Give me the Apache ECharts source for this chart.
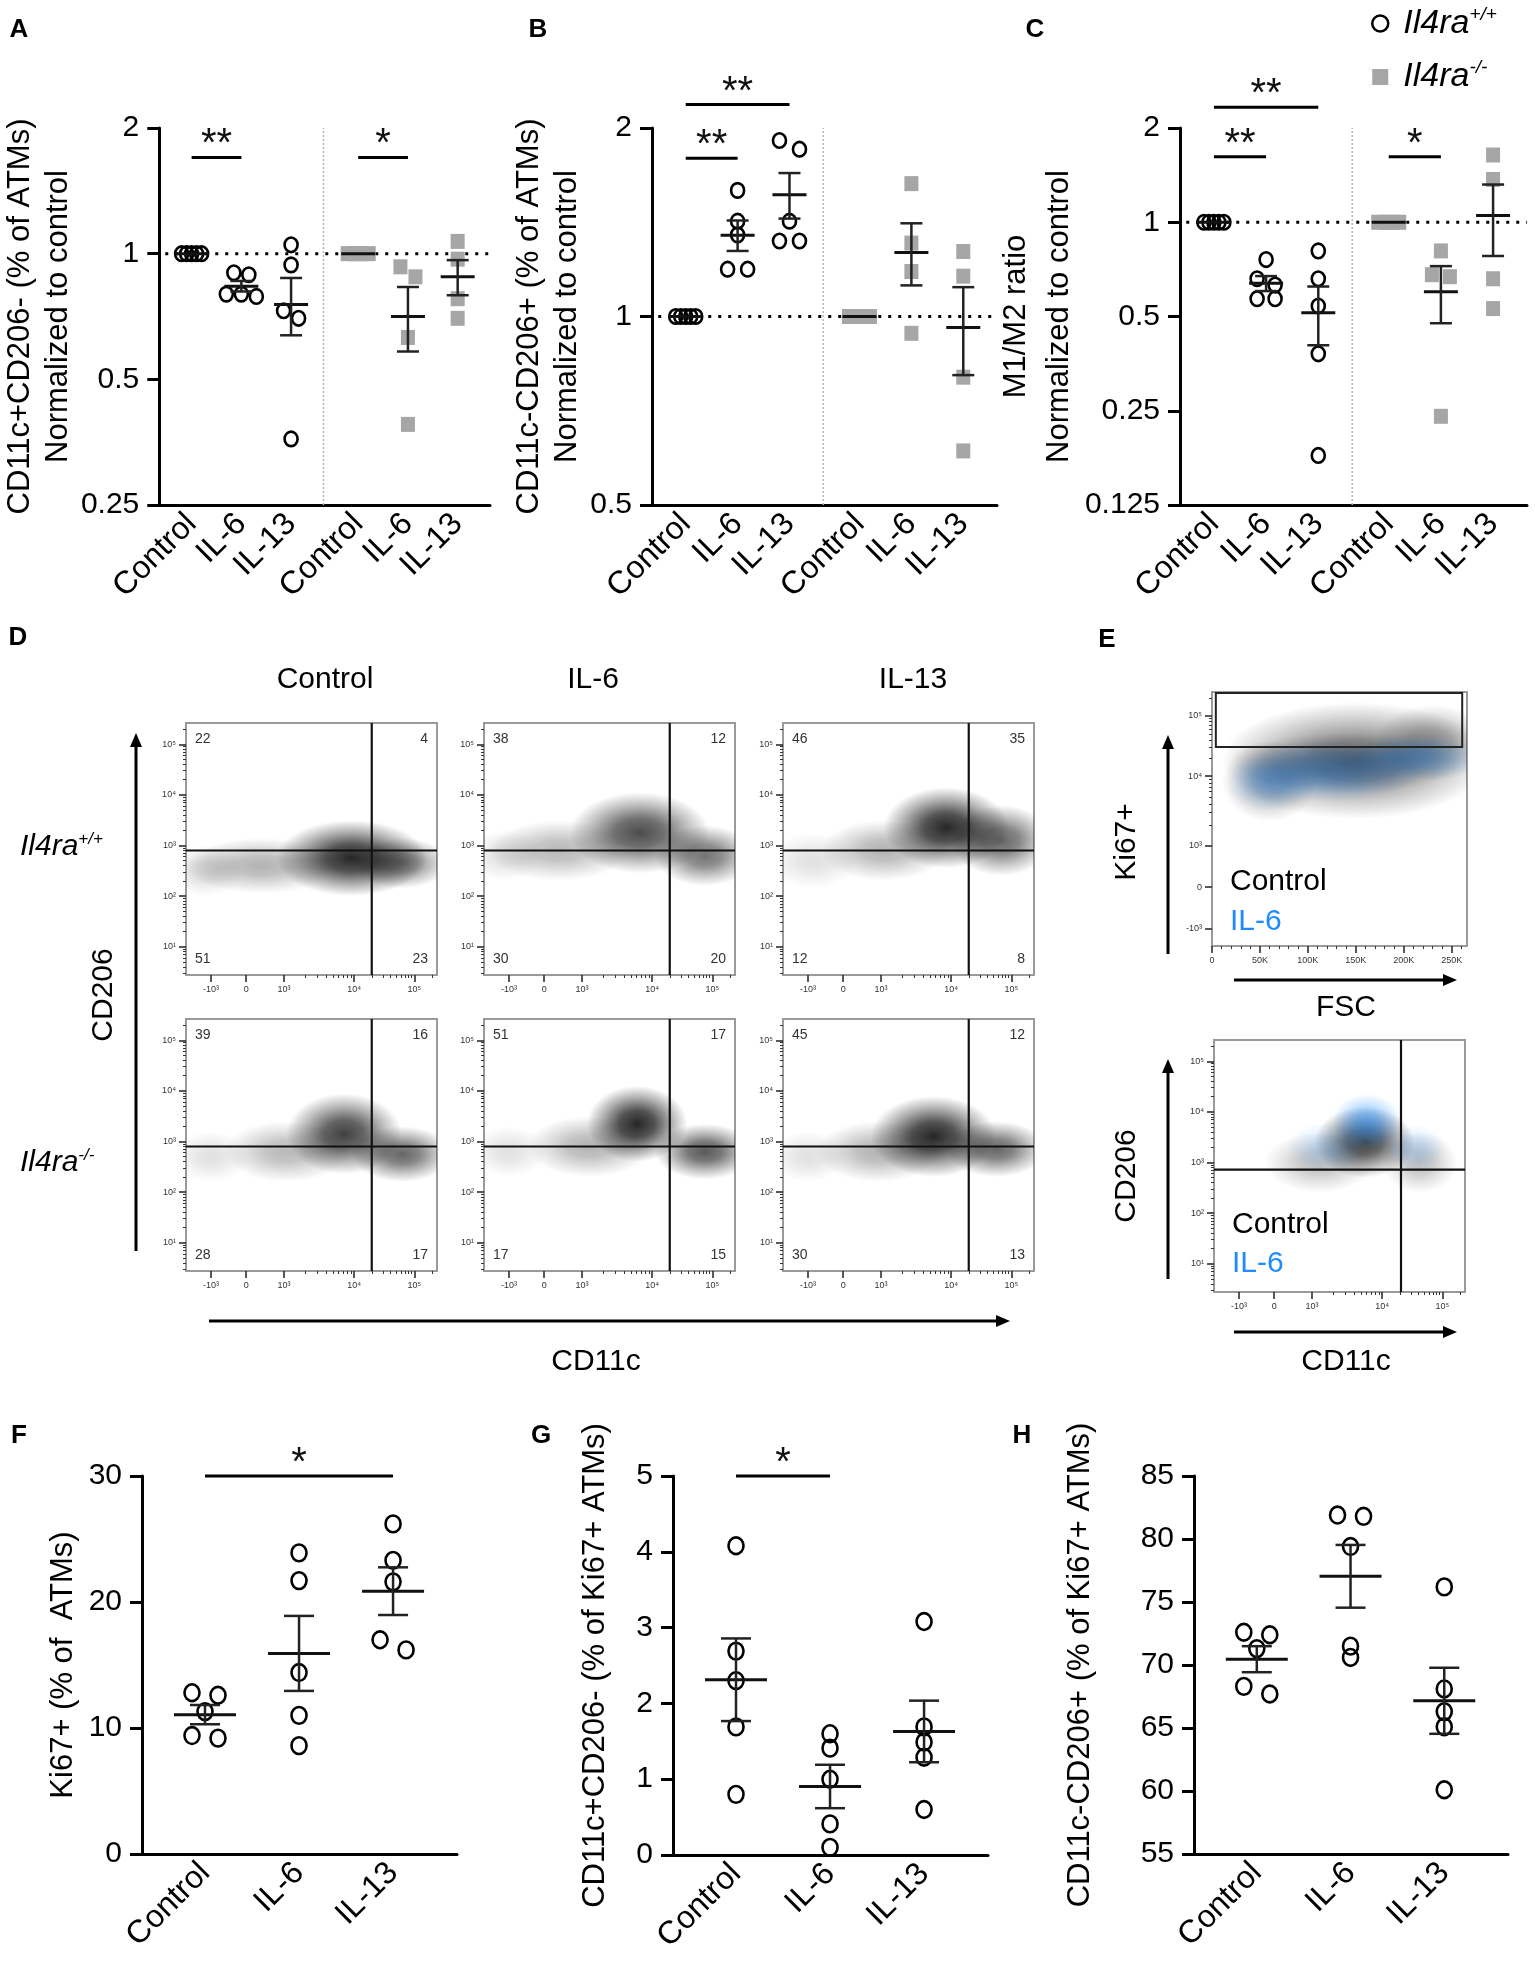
<!DOCTYPE html>
<html>
<head>
<meta charset="utf-8">
<script src="https://cdn.jsdelivr.net/npm/echarts@6/dist/echarts.min.js"></script>
<style>
  html, body { margin: 0; padding: 0; background: #fff; }
  #fig { width: 1535px; height: 1961px; }
</style>
</head>
<body>
<div id="fig"></div>
<script>
// ---------- data ----------
var groupNames = ['Control', 'IL-6', 'IL-13'];
var groupPos6 = [0.65, 1.65, 2.65, 4, 5, 6];
var groupPos3 = [0.67, 1.67, 2.67];

// A: CD11c+CD206- normalized (Il4ra+/+ then Il4ra-/-)
var aWt = [[1, 1, 1, 1, 1], [0.90, 0.89, 0.80, 0.80, 0.79], [1.05, 0.94, 0.73, 0.70, 0.36]];
var aKo = [[1, 1, 1, 1], [0.93, 0.88, 0.63, 0.39], [1.07, 0.97, 0.78, 0.70]];
// B: CD11c-CD206+ normalized
var bWt = [[1, 1, 1, 1, 1], [1.59, 1.42, 1.35, 1.19, 1.19], [1.91, 1.85, 1.42, 1.32, 1.32]];
var bKo = [[1, 1, 1, 1], [1.63, 1.31, 1.18, 0.94], [1.27, 1.16, 0.80, 0.61]];
// C: M1/M2 ratio normalized
var cWt = [[1, 1, 1, 1, 1], [0.76, 0.66, 0.63, 0.57, 0.57], [0.81, 0.66, 0.54, 0.38, 0.18]];
var cKo = [[1, 1, 1, 1], [0.81, 0.68, 0.67, 0.24], [1.64, 1.37, 0.66, 0.53]];
// F, G, H
var fVals = [[12.8, 12.6, 11.3, 9.2, 9.4], [23.9, 21.7, 14.4, 11.0, 8.6], [26.2, 23.3, 21.6, 17.0, 16.2]];
var gVals = [[4.08, 2.69, 2.30, 1.69, 0.80], [1.60, 1.41, 1.00, 0.41, 0.10], [3.08, 1.69, 1.49, 1.29, 0.60]];
var hVals = [[72.6, 72.4, 71.3, 68.3, 67.7], [81.9, 81.8, 79.4, 71.5, 70.6], [76.2, 68.1, 66.3, 65.1, 60.1]];

// significance bars: [from group, to group, level, text]
var aSig = [[0, 1, 1.70, '**'], [3, 4, 1.70, '*']];
var bSig = [[0, 1, 1.79, '**'], [0, 2, 2.18, '**']];
var cSig = [[0, 1, 1.62, '**'], [0, 2, 2.33, '**'], [3, 4, 1.62, '*']];
var fSig = [[0, 2, 30, '*']];
var gSig = [[0, 1, 5, '*']];

// D: quadrant percentages [UL, UR, LL, LR]
var dTitles = ['Control', 'IL-6', 'IL-13'];
var dQuad = [[22, 4, 51, 23], [38, 12, 30, 20], [46, 35, 12, 8],
             [39, 16, 28, 17], [51, 17, 17, 15], [45, 12, 30, 13]];
// density blobs [x channel, log10 y, x reach, y reach, darkness]
var dBlobs = [
  [[660, 2.75, 300, 0.75, 0.85], [860, 2.65, 190, 0.5, 0.5], [300, 2.6, 300, 0.55, 0.3], [80, 2.5, 150, 0.5, 0.15]],
  [[620, 3.25, 280, 0.8, 0.7], [880, 2.8, 200, 0.6, 0.55], [300, 2.9, 280, 0.6, 0.28], [80, 2.8, 150, 0.5, 0.12]],
  [[650, 3.35, 250, 0.8, 0.85], [870, 3.1, 200, 0.7, 0.6], [400, 2.9, 250, 0.6, 0.3], [120, 2.7, 180, 0.55, 0.12]],
  [[630, 3.15, 230, 0.8, 0.75], [860, 2.75, 200, 0.55, 0.6], [400, 2.8, 250, 0.6, 0.28], [100, 2.7, 150, 0.5, 0.12]],
  [[610, 3.35, 200, 0.75, 0.85], [880, 2.8, 200, 0.55, 0.65], [420, 2.9, 250, 0.6, 0.3], [100, 2.8, 150, 0.5, 0.12]],
  [[600, 3.1, 250, 0.8, 0.85], [850, 2.85, 200, 0.55, 0.6], [380, 2.8, 250, 0.6, 0.3], [100, 2.7, 150, 0.5, 0.12]]
];
var dGate = [740, 2.9];

// E: overlays (black = Control, blue = IL-6)
var eTopBlack = [[150, 730, 140, 230, 0.55], [60, 650, 50, 160, 0.35], [230, 800, 60, 150, 0.35]];
var eTopBlue = [[120, 690, 100, 120, 0.45], [210, 740, 70, 90, 0.4], [60, 640, 45, 110, 0.3]];
var eTopMix = [[140, 720, 120, 120, 0.25]];
var eTopGate = [4, 783, 261, 996];
var eBotBlack = [[600, 3.4, 200, 0.7, 0.75], [420, 3.0, 220, 0.6, 0.25], [820, 3.0, 150, 0.6, 0.25]];
var eBotBlue = [[610, 3.8, 140, 0.55, 0.55], [450, 3.3, 160, 0.5, 0.2], [800, 3.3, 120, 0.45, 0.2]];
var eBotGate = [745, 2.86];

// flow axis ticks
var flowXTicks = [100, 240, 390, 670, 910];
var flowXLabels = ['-10³', '0', '10³', '10⁴', '10⁵'];
var flowYTicks = [1, 2, 3, 4, 5];
var flowYLabels = ['10¹', '10²', '10³', '10⁴', '10⁵'];
var fscTicks = [0, 50, 100, 150, 200, 250];
var fscLabels = ['0', '50K', '100K', '150K', '200K', '250K'];
var ki67Ticks = [67, 232, 394, 669, 906];
var ki67Labels = ['-10³', '0', '10³', '10⁴', '10⁵'];

// ---------- helpers ----------
var FONT = '"Liberation Sans", Arial, Helvetica, sans-serif';
var grids = [], xAxes = [], yAxes = [], series = [], graphics = [];

function meanSem(v) {
  var n = v.length, m = 0, ss = 0;
  v.forEach(function (a) { m += a; });
  m /= n;
  v.forEach(function (a) { ss += (a - m) * (a - m); });
  var sem = n > 1 ? Math.sqrt(ss / (n - 1)) / Math.sqrt(n) : 0;
  return [m, sem];
}

// rows of points with close y get spread symmetrically
function swarmOffsets(ys, spacing, tight) {
  var idx = ys.map(function (y, i) { return i; }).sort(function (a, b) { return ys[a] - ys[b]; });
  var off = ys.map(function () { return 0; });
  var rows = [], cur = null;
  idx.forEach(function (i) {
    if (cur && ys[i] - ys[cur[0]] < 11) cur.push(i);
    else { cur = [i]; rows.push(cur); }
  });
  rows.forEach(function (r) {
    var s = r.length >= 4 ? tight : spacing;
    r.forEach(function (i, k) { off[i] = (k - (r.length - 1) / 2) * s; });
  });
  return off;
}

function text(x, y, str, size, opts) {
  opts = opts || {};
  graphics.push({
    type: 'text', x: x, y: y, rotation: opts.rotation || 0, silent: true,
    style: {
      text: str, fill: opts.color || '#000', fontSize: size, fontFamily: FONT,
      fontWeight: opts.weight || 'normal', fontStyle: opts.style || 'normal',
      align: opts.align || 'center', verticalAlign: 'middle',
      textAlign: opts.align || 'center', textVerticalAlign: 'middle',
      rich: opts.rich
    }
  });
}

function arrow(x1, y1, x2, y2) {
  var ang = Math.atan2(y2 - y1, x2 - x1), h = 14, w = 6;
  var bx = x2 - h * Math.cos(ang), by = y2 - h * Math.sin(ang);
  graphics.push({ type: 'line', silent: true, shape: { x1: x1, y1: y1, x2: bx, y2: by }, style: { stroke: '#000', lineWidth: 3 } });
  graphics.push({ type: 'polygon', silent: true, shape: { points: [[x2, y2],
    [bx + w * Math.sin(ang), by - w * Math.cos(ang)], [bx - w * Math.sin(ang), by + w * Math.cos(ang)]] },
    style: { fill: '#000' } });
}

function dotPanel(o) {
  var g = grids.length;
  grids.push({ left: o.rect[0], top: o.rect[1], width: o.rect[2], height: o.rect[3] });
  var xi = xAxes.length, yi = yAxes.length;
  var pos = o.pos, names = o.names;
  xAxes.push({
    gridIndex: g, type: 'value', min: 0, max: o.xMax,
    axisLine: { show: true, lineStyle: { color: '#000', width: 3 } },
    axisTick: { show: false }, splitLine: { show: false },
    axisLabel: {
      customValues: pos, rotate: 45, margin: 14, fontSize: 32, color: '#000', fontFamily: FONT,
      formatter: function (v) { var i = pos.indexOf(v); return i < 0 ? '' : names[i]; }
    }
  });
  var y = {
    gridIndex: g, type: o.log ? 'log' : 'value', min: o.yMin, max: o.yMax,
    axisLine: { show: true, lineStyle: { color: '#000', width: 3 } },
    axisTick: { show: true, length: 12, lineStyle: { color: '#000', width: 3 } },
    splitLine: { show: false }, minorTick: { show: false },
    axisLabel: { fontSize: 30, color: '#000', margin: 20, fontFamily: FONT,
      formatter: function (v) { return String(+(+v).toPrecision(4)); } },
    name: o.yName, nameLocation: 'middle', nameRotate: 90, nameGap: o.nameGap,
    nameTextStyle: { fontSize: 31, color: '#000', lineHeight: o.nameLH || 38, fontFamily: FONT }
  };
  if (o.log) y.logBase = 2; else y.interval = o.interval;
  yAxes.push(y);

  // reference lines
  if (o.log) {
    var refs = [[0.12, 1, o.xMax, 1]];
    if (o.sep) refs.push([o.sep, o.yMin, o.sep, o.yMax]);
    series.push({
      type: 'custom', xAxisIndex: xi, yAxisIndex: yi, silent: true, z: 1, data: refs,
      renderItem: function (params, api) {
        var p1 = api.coord([api.value(0), api.value(1)]), p2 = api.coord([api.value(2), api.value(3)]);
        var vert = params.dataIndex === 1;
        return { type: 'line', shape: { x1: p1[0], y1: p1[1], x2: p2[0], y2: p2[1] },
          style: vert ? { stroke: '#b5b5b5', lineWidth: 1.5, lineDash: [2, 2] }
                      : { stroke: '#000', lineWidth: 3, lineDash: [3, 7] } };
      }
    });
  }

  // points
  o.sets.forEach(function (set) {
    set.vals.forEach(function (vals, gi) {
      var x = pos[set.offset + gi];
      series.push({
        type: 'custom', name: set.kind, xAxisIndex: xi, yAxisIndex: yi, z: 4, clip: false,
        data: vals.map(function (v, k) { return [x, v, k]; }),
        renderItem: function (params, api) {
          var k = api.value(2);
          var pts = vals.map(function (v) { return api.coord([x, v]); });
          var off = swarmOffsets(pts.map(function (p) { return p[1]; }), o.spacing, set.kind === 'ko' ? 7 : 5);
          var cx = pts[k][0] + off[k], cy = pts[k][1];
          if (set.kind === 'ko') {
            return { type: 'rect', shape: { x: cx - 7, y: cy - 7.5, width: 14, height: 15 }, style: { fill: '#a6a6a6' } };
          }
          return { type: 'ellipse', shape: { cx: cx, cy: cy, rx: o.r, ry: o.r * 1.12 }, style: { fill: 'transparent', stroke: '#000', lineWidth: 2.6 } };
        }
      });
    });
    // mean + SEM
    series.push({
      type: 'custom', xAxisIndex: xi, yAxisIndex: yi, z: 5, clip: false, silent: true,
      data: set.vals.map(function (vals, gi) {
        var ms = meanSem(vals);
        return [pos[set.offset + gi], ms[0], ms[0] - ms[1], ms[0] + ms[1]];
      }),
      renderItem: function (params, api) {
        var x = api.value(0);
        var m = api.coord([x, api.value(1)]), lo = api.coord([x, api.value(2)]), hi = api.coord([x, api.value(3)]);
        var ch = [{ type: 'line', shape: { x1: m[0] - o.meanW / 2, y1: m[1], x2: m[0] + o.meanW / 2, y2: m[1] }, style: { stroke: '#111', lineWidth: 3 } }];
        if (Math.abs(hi[1] - lo[1]) > 1) {
          ch.push({ type: 'line', shape: { x1: m[0], y1: hi[1], x2: m[0], y2: lo[1] }, style: { stroke: '#222', lineWidth: 2.5 } });
          ch.push({ type: 'line', shape: { x1: m[0] - o.capW / 2, y1: hi[1], x2: m[0] + o.capW / 2, y2: hi[1] }, style: { stroke: '#222', lineWidth: 2.5 } });
          ch.push({ type: 'line', shape: { x1: m[0] - o.capW / 2, y1: lo[1], x2: m[0] + o.capW / 2, y2: lo[1] }, style: { stroke: '#222', lineWidth: 2.5 } });
        }
        return { type: 'group', children: ch };
      }
    });
  });

  // significance bars
  if (o.sig) {
    var sig = o.sig;
    series.push({
      type: 'custom', xAxisIndex: xi, yAxisIndex: yi, z: 6, clip: false, silent: true,
      data: sig.map(function (s) { return [pos[s[0]], pos[s[1]], s[2]]; }),
      renderItem: function (params, api) {
        var p1 = api.coord([api.value(0), api.value(2)]), p2 = api.coord([api.value(1), api.value(2)]);
        return { type: 'group', children: [
          { type: 'line', shape: { x1: p1[0], y1: p1[1], x2: p2[0], y2: p2[1] }, style: { stroke: '#000', lineWidth: 3 } },
          { type: 'text', x: (p1[0] + p2[0]) / 2, y: p1[1] - 12,
            style: { text: sig[params.dataIndex][3], fontSize: 40, fontFamily: FONT, fill: '#111',
              align: 'center', verticalAlign: 'middle', textAlign: 'center', textVerticalAlign: 'middle' } }
        ] };
      }
    });
  }
}

function blobSeries(xi, yi, rgb, list) {
  return {
    type: 'custom', xAxisIndex: xi, yAxisIndex: yi, clip: true, silent: true, z: 2, data: list,
    renderItem: function (params, api) {
      var x = api.value(0), y = api.value(1);
      var c = api.coord([x, y]), ex = api.coord([x + api.value(2), y]), ey = api.coord([x, y + api.value(3)]);
      var rx = Math.abs(ex[0] - c[0]), ry = Math.abs(ey[1] - c[1]), a = api.value(4);
      function col(f) { return 'rgba(' + rgb + ',' + (a * f).toFixed(3) + ')'; }
      return {
        type: 'circle', x: c[0], y: c[1], scaleY: ry / rx, shape: { cx: 0, cy: 0, r: rx },
        style: { fill: { type: 'radial', x: 0.5, y: 0.5, r: 0.5, colorStops: [
          { offset: 0, color: col(1) }, { offset: 0.35, color: col(0.8) },
          { offset: 0.7, color: col(0.35) }, { offset: 1, color: col(0) }] } }
      };
    }
  };
}

function minorLog(majorPos, lo, hi) {
  // log-spaced minor tick positions around decade ticks
  var out = [], k, v, n = majorPos.length;
  for (var i = 0; i + 1 < n; i++) {
    for (k = 2; k <= 9; k++) out.push(majorPos[i] + (majorPos[i + 1] - majorPos[i]) * Math.log10(k));
  }
  var step = majorPos[n - 1] - majorPos[n - 2];
  for (k = 2; k <= 9; k++) { v = majorPos[n - 1] + step * Math.log10(k); if (v < hi) out.push(v); }
  step = majorPos[1] - majorPos[0];
  for (k = 2; k <= 9; k++) { v = majorPos[0] - step + step * Math.log10(k); if (v > lo) out.push(v); }
  return out.filter(function (p) { return p > lo && p < hi; });
}

function flowAxis(g, dim, r) {
  var lab = r.labels, tk = r.ticks;
  var major = {
    gridIndex: g, type: 'value', min: r.min, max: r.max,
    axisLine: { show: false }, splitLine: { show: false },
    axisTick: { show: true, customValues: tk, length: 7, lineStyle: { color: '#222', width: 1.5 } },
    axisLabel: { customValues: tk, fontSize: 9, color: '#333', margin: 10, fontFamily: FONT,
      formatter: function (v) { var i = tk.indexOf(v); return i < 0 ? '' : lab[i]; } }
  };
  var minor = {
    gridIndex: g, type: 'value', min: r.min, max: r.max,
    axisLine: { show: false }, splitLine: { show: false }, axisLabel: { show: false },
    axisTick: { show: true, customValues: r.minor, length: 3, lineStyle: { color: '#333', width: 1 } }
  };
  if (dim === 'x') { major.position = minor.position = 'bottom'; xAxes.push(major, minor); }
  else { major.position = minor.position = 'left'; yAxes.push(major, minor); }
}

function flowPlot(rect, xr, yr, layers, gates, quad) {
  var g = grids.length;
  grids.push({ left: rect[0], top: rect[1], width: rect[2], height: rect[3], show: true,
    borderColor: '#9a9a9a', borderWidth: 2, backgroundColor: 'transparent' });
  var xi = xAxes.length, yi = yAxes.length;
  flowAxis(g, 'x', xr);
  flowAxis(g, 'y', yr);
  layers.forEach(function (l) { series.push(blobSeries(xi, yi, l[0], l[1])); });
  series.push({
    type: 'custom', xAxisIndex: xi, yAxisIndex: yi, silent: true, z: 3, clip: true, data: gates,
    renderItem: function (params, api) {
      var p1 = api.coord([api.value(0), api.value(1)]), p2 = api.coord([api.value(2), api.value(3)]);
      if (api.value(4) === 1) {
        return { type: 'rect', shape: { x: p1[0], y: p2[1], width: p2[0] - p1[0], height: p1[1] - p2[1] },
          style: { fill: 'none', stroke: '#222', lineWidth: 2 } };
      }
      return { type: 'line', shape: { x1: p1[0], y1: p1[1], x2: p2[0], y2: p2[1] }, style: { stroke: '#111', lineWidth: 2.2 } };
    }
  });
  if (quad) {
    var L = rect[0], T = rect[1], R = rect[0] + rect[2], B = rect[1] + rect[3];
    text(L + 9, T + 16, String(quad[0]), 14, { align: 'left', color: '#333' });
    text(R - 9, T + 16, String(quad[1]), 14, { align: 'right', color: '#333' });
    text(L + 9, B - 16, String(quad[2]), 14, { align: 'left', color: '#333' });
    text(R - 9, B - 16, String(quad[3]), 14, { align: 'right', color: '#333' });
  }
}

function merge(a, b) { var o = {}, k; for (k in a) o[k] = a[k]; for (k in b) o[k] = b[k]; return o; }

// ---------- top row: A, B, C ----------
var common6 = { pos: groupPos6, names: groupNames.concat(groupNames), xMax: 6.65, sep: 3.3, log: true,
  r: 6.5, meanW: 34, capW: 22 };
dotPanel(merge(common6, { rect: [145, 128, 345, 377], yMin: 0.25, yMax: 2, spacing: 15, nameGap: 68,
  yName: 'CD11c+CD206- (% of ATMs)\nNormalized to control', sig: aSig,
  sets: [{ kind: 'wt', vals: aWt, offset: 0 }, { kind: 'ko', vals: aKo, offset: 3 }] }));
dotPanel(merge(common6, { rect: [652, 128, 345, 377], yMin: 0.5, yMax: 2, spacing: 20, nameGap: 56,
  yName: 'CD11c-CD206+ (% of ATMs)\nNormalized to control', sig: bSig,
  sets: [{ kind: 'wt', vals: bWt, offset: 0 }, { kind: 'ko', vals: bKo, offset: 3 }] }));
dotPanel(merge(common6, { rect: [1180, 128, 347, 377], yMin: 0.125, yMax: 2, spacing: 18, nameGap: 86, nameLH: 43,
  yName: 'M1/M2 ratio\nNormalized to control', sig: cSig,
  sets: [{ kind: 'wt', vals: cWt, offset: 0 }, { kind: 'ko', vals: cKo, offset: 3 }] }));

// ---------- bottom row: F, G, H ----------
var common3 = { pos: groupPos3, names: groupNames, xMax: 3.35, log: false, r: 7.5, meanW: 62, capW: 30, spacing: 26, nameLH: 34 };
dotPanel(merge(common3, { rect: [142, 1476, 315, 378], yMin: 0, yMax: 30, interval: 10, nameGap: 62,
  yName: 'Ki67+ (% of  ATMs)', sig: fSig, sets: [{ kind: 'wt', vals: fVals, offset: 0 }] }));
dotPanel(merge(common3, { rect: [673, 1476, 315, 379], yMin: 0, yMax: 5, interval: 1, nameGap: 61,
  yName: 'CD11c+CD206- (% of Ki67+ ATMs)', sig: gSig, sets: [{ kind: 'wt', vals: gVals, offset: 0 }] }));
dotPanel(merge(common3, { rect: [1194, 1476, 314, 378], yMin: 55, yMax: 85, interval: 5, nameGap: 97,
  yName: 'CD11c-CD206+ (% of Ki67+ ATMs)', sets: [{ kind: 'wt', vals: hVals, offset: 0 }] }));

// ---------- D: flow plots ----------
var flowX = { min: 0, max: 1000, ticks: flowXTicks, labels: flowXLabels, minor: minorLog(flowXTicks.slice(2), 400, 1000) };
var flowY = { min: 0.44, max: 5.42, ticks: flowYTicks, labels: flowYLabels, minor: minorLog(flowYTicks, 0.44, 5.42) };
var dLeft = [186, 484, 783], dTop = [723, 1019];
for (var r = 0; r < 2; r++) {
  for (var c = 0; c < 3; c++) {
    var i = r * 3 + c;
    flowPlot([dLeft[c], dTop[r], 251, 252], flowX, flowY, [['0,0,0', dBlobs[i]]],
      [[dGate[0], 0.44, dGate[0], 5.42], [0, dGate[1], 1000, dGate[1]]], dQuad[i]);
  }
}

// ---------- E: overlays ----------
flowPlot([1212, 692, 255, 254],
  { min: 0, max: 266, ticks: fscTicks, labels: fscLabels, minor: [10, 20, 30, 40, 60, 70, 80, 90, 110, 120, 130, 140, 160, 170, 180, 190, 210, 220, 230, 240, 260] },
  { min: 0, max: 1000, ticks: ki67Ticks, labels: ki67Labels, minor: minorLog(ki67Ticks.slice(2), 394, 1000) },
  [['0,0,0', eTopBlack], ['30,140,255', eTopBlue], ['0,0,0', eTopMix]],
  [[eTopGate[0], eTopGate[1], eTopGate[2], eTopGate[3], 1]], null);
flowPlot([1214, 1040, 251, 252], flowX, flowY,
  [['0,0,0', eBotBlack], ['30,140,255', eBotBlue]],
  [[eBotGate[0], 0.44, eBotGate[0], 5.42], [0, eBotGate[1], 1000, eBotGate[1]]], null);

// ---------- free text, arrows ----------
var letters = [['A', 19, 30], ['B', 538, 30], ['C', 1035, 30], ['D', 18, 638], ['E', 1107, 640],
               ['F', 19, 1436], ['G', 541, 1436], ['H', 1022, 1436]];
letters.forEach(function (l) { text(l[1], l[2], l[0], 26, { weight: 'bold' }); });

dTitles.forEach(function (t, k) { text([325, 593, 913][k], 680, t, 30); });
var supRich = { i: { fontSize: 30, fontStyle: 'italic', fontFamily: FONT }, s: { fontSize: 17, fontStyle: 'italic', fontFamily: FONT, padding: [0, 0, 16, 0] } };
text(20, 847, '{i|Il4ra}{s|+/+}', 30, { align: 'left', rich: supRich });
text(20, 1163, '{i|Il4ra}{s|-/-}', 30, { align: 'left', rich: supRich });
arrow(136, 1251, 136, 733);
text(104, 995, 'CD206', 30, { rotation: Math.PI / 2 });
arrow(209, 1321, 1010, 1321);
text(596, 1362, 'CD11c', 30);

arrow(1168, 954, 1168, 735);
text(1127, 842, 'Ki67+', 30, { rotation: Math.PI / 2 });
arrow(1234, 980, 1457, 980);
text(1346, 1008, 'FSC', 30);
text(1230, 882, 'Control', 30, { align: 'left' });
text(1230, 922, 'IL-6', 30, { align: 'left', color: '#1e8cff' });

arrow(1168, 1279, 1168, 1059);
text(1127, 1176, 'CD206', 30, { rotation: Math.PI / 2 });
arrow(1234, 1332, 1457, 1332);
text(1346, 1362, 'CD11c', 30);
text(1232, 1225, 'Control', 30, { align: 'left' });
text(1232, 1264, 'IL-6', 30, { align: 'left', color: '#1e8cff' });

// ---------- chart ----------
var chart = echarts.init(document.getElementById('fig'), null, { width: 1535, height: 1961 });
var option = {
  backgroundColor: '#fff',
  animation: false,
  textStyle: { fontFamily: FONT },
  legend: {
    left: 1366, top: 0, orient: 'vertical', itemWidth: 16, itemHeight: 16, itemGap: 18,
    selectedMode: false,
    data: [
      { name: 'wt', icon: 'circle', itemStyle: { color: '#fff', borderColor: '#000', borderWidth: 2.5 } },
      { name: 'ko', icon: 'rect', itemStyle: { color: '#a6a6a6', borderWidth: 0 } }
    ],
    formatter: function (n) { return n === 'wt' ? '{i|Il4ra}{s|+/+}' : '{i|Il4ra}{s|-/-}'; },
    textStyle: { rich: {
      i: { fontSize: 34, fontStyle: 'italic', color: '#000', fontFamily: FONT, padding: [0, 0, 0, 10] },
      s: { fontSize: 19, fontStyle: 'italic', color: '#000', fontFamily: FONT, padding: [0, 0, 18, 0] }
    } }
  },
  grid: grids, xAxis: xAxes, yAxis: yAxes, series: series,
  graphic: { elements: graphics }
};
chart.setOption(option);
</script>
</body>
</html>
